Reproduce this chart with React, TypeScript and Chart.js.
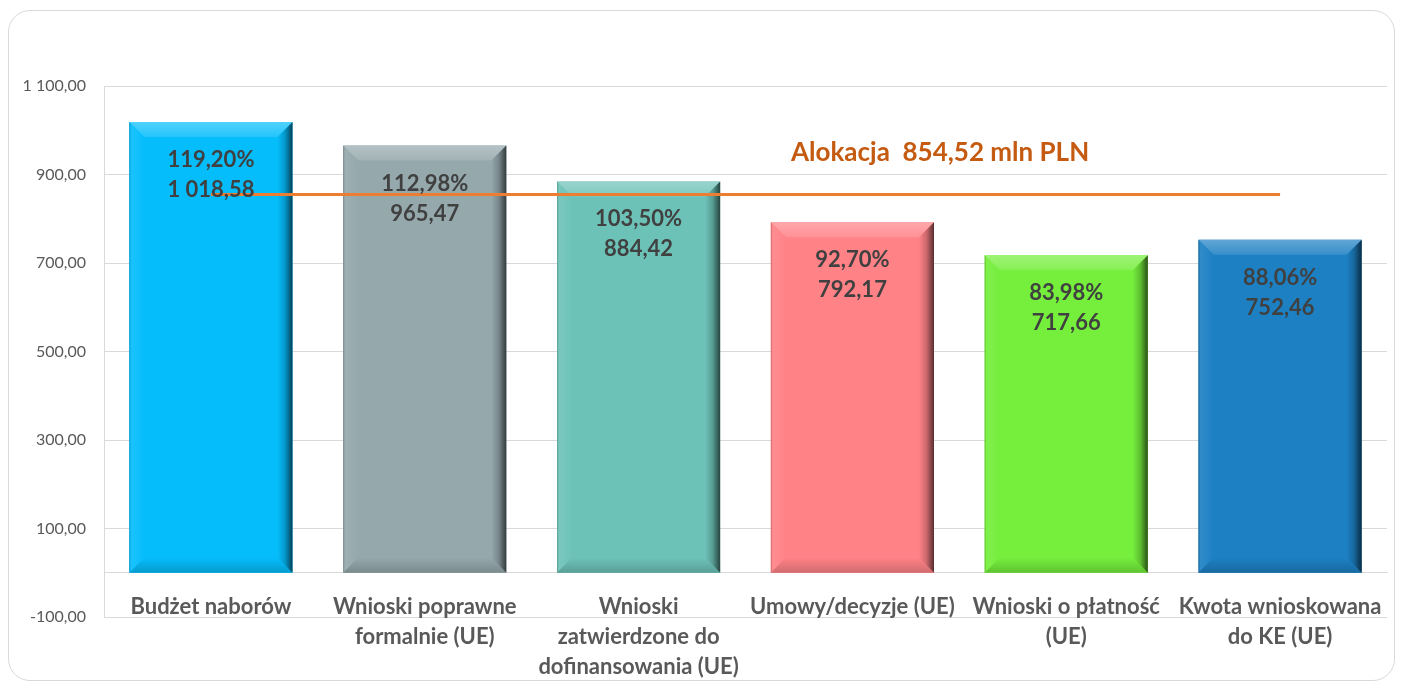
import React, { useEffect, useRef } from 'react';
import { Chart, registerables } from 'chart.js';

Chart.register(...registerables);

const categories: string[][] = [
  ['Budżet naborów'],
  ['Wnioski poprawne', 'formalnie (UE)'],
  ['Wnioski', 'zatwierdzone do', 'dofinansowania (UE)'],
  ['Umowy/decyzje (UE)'],
  ['Wnioski o płatność', '(UE)'],
  ['Kwota wnioskowana', 'do KE (UE)'],
];
const amounts = [1018.58, 965.47, 884.42, 792.17, 717.66, 752.46];
const percents = [119.2, 112.98, 103.5, 92.7, 83.98, 88.06];
const allocation = 854.52;
const allocationLabel = 'Alokacja  854,52 mln PLN';
const yTicks = [-100, 100, 300, 500, 700, 900, 1100];
const barColors = ['#06BDFC', '#95A8AC', '#6DC2B8', '#FF8287', '#75EE3C', '#1D80C3'];

const FONT = 'Lato, "Open Sans", sans-serif';

function fmt(v: number): string {
  const neg = v < 0;
  const [i, d] = Math.abs(v).toFixed(2).split('.');
  const ig = i.replace(/\B(?=(\d{3})+(?!\d))/g, ' ');
  return (neg ? '-' : '') + ig + ',' + d;
}

function hexToRgb(h: string) {
  const n = parseInt(h.slice(1), 16);
  return [(n >> 16) & 255, (n >> 8) & 255, n & 255];
}
function mix(h: string, target: string, t: number): string {
  const a = hexToRgb(h);
  const b = hexToRgb(target);
  const c = a.map((v, k) => Math.round(v + (b[k] - v) * t));
  return `rgb(${c[0]},${c[1]},${c[2]})`;
}

const bevelPlugin = {
  id: 'bevel',
  afterDatasetDraw(chart: any, args: any) {
    const meta = args.meta;
    if (meta.type !== 'bar') return;
    const ctx = chart.ctx;
    meta.data.forEach((el: any, i: number) => {
      const c = barColors[i];
      const { x, y, base, width } = el.getProps(['x', 'y', 'base', 'width'], true);
      const l = x - width / 2;
      const r = x + width / 2;
      const t = Math.min(y, base);
      const bot = Math.max(y, base);
      const h = bot - t;
      const b = Math.min(15, width / 4, h / 4);
      ctx.save();
      // top bevel
      let g = ctx.createLinearGradient(0, t, 0, t + b);
      g.addColorStop(0, mix(c, '#FFFFFF', 0.3));
      g.addColorStop(1, mix(c, '#FFFFFF', 0.12));
      ctx.fillStyle = g;
      ctx.beginPath();
      ctx.moveTo(l, t);
      ctx.lineTo(r, t);
      ctx.lineTo(r - b, t + b);
      ctx.lineTo(l + b, t + b);
      ctx.closePath();
      ctx.fill();
      // left bevel
      g = ctx.createLinearGradient(l, 0, l + b, 0);
      g.addColorStop(0, mix(c, '#000000', 0.2));
      g.addColorStop(0.12, mix(c, '#FFFFFF', 0.08));
      g.addColorStop(0.4, mix(c, '#FFFFFF', 0.06));
      g.addColorStop(1, c);
      ctx.fillStyle = g;
      ctx.beginPath();
      ctx.moveTo(l, t);
      ctx.lineTo(l + b, t + b);
      ctx.lineTo(l + b, bot - b);
      ctx.lineTo(l, bot);
      ctx.closePath();
      ctx.fill();
      // bottom bevel
      g = ctx.createLinearGradient(0, bot - b, 0, bot);
      g.addColorStop(0, c);
      g.addColorStop(1, mix(c, '#000000', 0.18));
      ctx.fillStyle = g;
      ctx.beginPath();
      ctx.moveTo(l, bot);
      ctx.lineTo(r, bot);
      ctx.lineTo(r - b, bot - b);
      ctx.lineTo(l + b, bot - b);
      ctx.closePath();
      ctx.fill();
      // right bevel
      g = ctx.createLinearGradient(r - b, 0, r, 0);
      g.addColorStop(0, c);
      g.addColorStop(0.5, mix(c, '#000000', 0.2));
      g.addColorStop(1, mix(c, '#000000', 0.65));
      ctx.fillStyle = g;
      ctx.beginPath();
      ctx.moveTo(r, t);
      ctx.lineTo(r, bot);
      ctx.lineTo(r - b, bot - b);
      ctx.lineTo(r - b, t + b);
      ctx.closePath();
      ctx.fill();
      ctx.restore();
    });
  },
};

const labelsPlugin = {
  id: 'barLabels',
  afterDatasetsDraw(chart: any) {
    const ctx = chart.ctx;
    const barMeta = chart.getSortedVisibleDatasetMetas().find((m: any) => m.type === 'bar');
    ctx.save();
    ctx.textAlign = 'center';
    ctx.textBaseline = 'middle';
    if (barMeta) {
      ctx.fillStyle = '#404040';
      ctx.font = `bold 22px ${FONT}`;
      barMeta.data.forEach((el: any, i: number) => {
        const { x, y } = el.getProps(['x', 'y'], true);
        ctx.fillText(fmt(percents[i]) + '%', x, y + 38);
        ctx.fillText(fmt(amounts[i]), x, y + 68);
      });
    }
    const xs = chart.scales.x;
    const ys = chart.scales.y;
    ctx.fillStyle = '#C55A11';
    ctx.font = `bold 26px ${FONT}`;
    ctx.fillText(allocationLabel, xs.getPixelForValue(3.41), ys.getPixelForValue(allocation) - 42);
    ctx.restore();
  },
};

export default function App() {
  const ref = useRef<HTMLCanvasElement | null>(null);
  useEffect(() => {
    if (!ref.current) return;
    const chart = new Chart(ref.current, {
      type: 'bar',
      data: {
        labels: categories as any,
        datasets: [
          {
            type: 'line',
            label: 'Alokacja',
            data: categories.map(() => allocation),
            borderColor: '#ED7D31',
            borderWidth: 3,
            pointRadius: 0,
            order: 0,
          } as any,
          {
            type: 'bar',
            label: 'Kwoty',
            data: amounts,
            backgroundColor: barColors,
            borderWidth: 0,
            categoryPercentage: 1,
            barPercentage: 0.763,
            order: 1,
          } as any,
        ],
      },
      options: {
        responsive: false,
        animation: false,
        devicePixelRatio: 1,
        layout: { padding: { top: 75, right: 7, bottom: 63, left: 0 } },
        plugins: {
          legend: { display: false },
          tooltip: { enabled: false },
          title: { display: false },
        },
        scales: {
          x: {
            position: { y: 0 } as any,
            grid: { display: false },
            border: { display: true, color: '#D9D9D9', width: 1 },
            ticks: {
              autoSkip: false,
              maxRotation: 0,
              minRotation: 0,
              padding: 11,
              color: '#595959',
              font: { family: FONT, size: 22, weight: 'bold', lineHeight: 1.364 },
            },
          },
          y: {
            min: -100,
            max: 1100,
            afterBuildTicks: (s: any) => {
              s.ticks = yTicks.map((v) => ({ value: v }));
            },
            afterFit: (s: any) => {
              s.width = 95;
            },
            grid: { color: '#D9D9D9', lineWidth: 1, drawTicks: false },
            border: { display: true, color: '#D9D9D9', width: 1 },
            ticks: {
              padding: 18,
              color: '#595959',
              font: { family: FONT, size: 16 },
              callback: (v: any) => fmt(Number(v)),
            },
          },
        },
      },
      plugins: [bevelPlugin, labelsPlugin],
    });
    return () => chart.destroy();
  }, []);
  return (
    <div style={{ paddingTop: 2 }}>
      <div
        style={{
          position: 'relative',
          width: 1387,
          height: 671,
          boxSizing: 'border-box',
          border: '1px solid #D9D9D9',
          borderRadius: 22,
          background: '#FFFFFF',
          overflow: 'hidden',
        }}
      >
        <canvas ref={ref} width={1385} height={669} style={{ display: 'block', width: 1385, height: 669 }} />
      </div>
    </div>
  );
}
